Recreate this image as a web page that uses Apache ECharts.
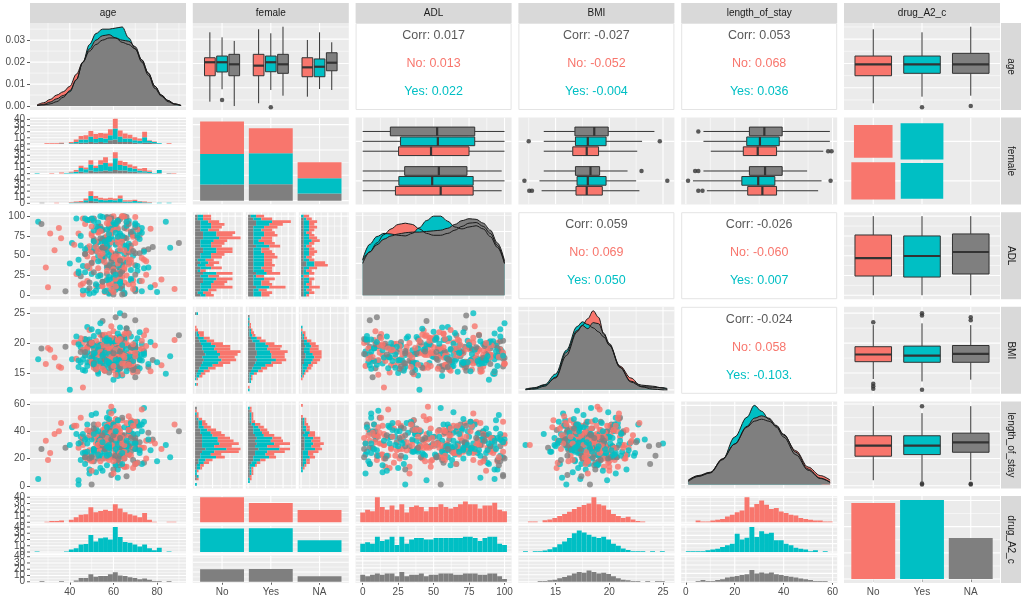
<!DOCTYPE html>
<html>
<head>
<meta charset="utf-8">
<title>ggpairs</title>
<script src="https://cdn.jsdelivr.net/npm/echarts@6.0.0/dist/echarts.min.js"></script>
<style>
html,body{margin:0;padding:0;background:#ffffff;}
#chart{width:1024px;height:602px;}
</style>
</head>
<body>
<div id="chart"></div>
<script>
// ===================== DATA =====================
const varLabels = ['age','female','ADL','BMI','length_of_stay','drug_A2_c'];
const levelNames = ['No','Yes','NA'];
const groupColors = ['#F8766D','#00BFC4','#7F7F7F'];

// tick labels
const ageTicks = [40,60,80];
const adlTicks = [0,25,50,75,100];
const bmiTicks = [15,20,25];
const losTicks = [0,20,40,60];
const ageDensTicks = [0,0.01,0.02,0.03];

// female x drug counts (drug order: No, Yes, NA)
const femaleDrugNo  = [128,120,64];
const femaleDrugYes = [99,122,65];
const femaleDrugNA  = [63,60,28];

// histogram bins (start, width), 30 bins; per female facet: [drug No, drug Yes, drug NA]
const ageBinStart = 23.88, ageBinWidth = 2.24;
const ageHistNo = [
 [0,0,1,1,1,1,0,2,4,6,7,9,8,8,8,10,16,10,8,6,5,4,9,1,1,0,0,1,0,0],
 [0,0,0,0,0,0,0,1,2,5,5,9,6,7,7,8,18,9,6,6,4,4,9,3,2,1,0,0,0,0],
 [0,0,0,0,0,1,0,0,1,2,2,3,2,3,2,6,7,3,3,3,2,1,2,2,1,0,0,0,0,0]];
const ageHistYes = [
 [0,0,0,1,0,2,0,1,3,4,3,7,4,7,9,5,10,7,6,5,4,3,5,2,0,0,0,0,1,0],
 [1,0,0,0,0,0,1,2,3,6,5,10,6,11,13,8,19,9,8,7,5,3,2,2,1,5,0,0,0,0],
 [0,0,0,0,0,0,0,0,0,3,2,5,3,4,5,4,6,5,5,3,3,2,2,1,0,1,0,1,0,0]];
const ageHistNA = [
 [0,0,0,0,1,0,0,1,1,2,3,8,4,3,3,3,3,5,2,2,2,1,1,1,0,0,0,0,0,0],
 [0,0,0,0,0,0,0,1,1,1,3,8,5,4,3,4,3,6,2,2,3,2,1,1,0,1,0,1,0,0],
 [0,1,0,0,0,0,0,0,1,1,2,4,3,2,2,2,2,2,1,1,1,1,1,0,0,0,0,0,0,0]];

const adlBinStart = -1.72, adlBinWidth = 3.448;
const adlHistNo = [
 [3,3,3,8,5,5,6,4,6,2,4,3,4,3,4,5,6,6,4,5,5,8,6,7,4,4,5,4,3,3],
 [2,2,3,4,4,4,5,3,5,1,4,3,3,3,4,4,5,5,4,4,5,6,5,5,3,4,4,3,2,2],
 [2,1,2,2,2,3,3,2,3,1,2,1,2,1,2,2,3,3,2,2,2,3,3,3,2,2,2,2,1,1]];
const adlHistYes = [
 [3,4,3,6,4,3,4,3,5,3,4,4,3,3,5,4,4,3,4,4,5,4,5,4,4,5,5,7,4,3],
 [3,3,2,5,3,3,4,1,4,4,3,4,4,4,4,4,3,3,5,4,2,3,4,4,3,4,5,6,3,2],
 [2,2,2,3,2,2,2,2,3,2,2,2,2,2,2,2,2,2,3,2,2,2,2,2,2,2,3,3,2,1]];
const adlHistNA = [
 [1,2,2,4,2,1,2,2,2,2,3,5,4,2,2,2,3,2,2,2,3,3,2,2,2,3,2,3,2,2],
 [1,2,1,2,1,2,2,1,2,1,2,3,3,2,1,2,2,2,1,2,3,2,2,1,2,2,2,2,1,1],
 [1,1,1,1,1,1,1,0,1,1,1,2,2,1,1,1,1,1,1,1,1,1,1,1,1,1,1,1,1,0]];

const bmiBinStart = 11.97, bmiBinWidth = 0.455;
const bmiHistNo = [
 [0,0,1,0,1,2,3,4,5,7,8,10,11,12,16,11,10,8,5,4,3,4,2,1,0,0,0,0,0,0],
 [0,0,1,0,1,2,3,4,6,8,11,12,11,10,9,8,9,7,5,4,2,1,0,0,0,0,0,0,1,0],
 [0,0,0,0,0,1,1,2,3,4,5,6,5,7,6,5,5,4,3,2,1,1,0,0,0,0,0,0,1,0]];
const bmiHistYes = [
 [0,1,0,0,1,1,2,3,4,5,7,7,9,9,12,9,9,6,4,3,2,2,1,1,1,0,0,0,0,0],
 [1,0,0,1,1,1,3,5,6,8,11,13,11,10,9,8,9,7,5,4,2,1,1,0,1,0,1,0,0,0],
 [0,0,0,1,1,1,1,2,3,4,5,6,5,6,6,5,5,5,3,2,1,1,1,1,0,1,0,1,0,0]];
const bmiHistNA = [
 [0,0,0,0,1,1,1,2,3,3,4,5,5,6,8,6,5,4,3,2,1,2,1,0,0,0,0,0,0,0],
 [0,0,0,0,0,1,1,2,3,4,5,6,6,5,4,4,4,4,2,1,1,1,0,1,0,0,0,0,0,0],
 [0,0,0,0,0,0,1,1,1,1,2,2,3,3,2,2,3,2,2,1,1,0,0,0,0,0,0,0,0,0]];

const losBinStart = 0, losBinWidth = 2;
const losHistNo = [
 [0,0,1,0,0,1,1,2,3,4,5,6,14,8,10,11,9,7,7,6,5,4,3,2,2,1,1,1,0,0],
 [1,0,0,1,1,1,2,2,3,4,9,6,7,12,7,10,9,9,6,6,4,3,2,2,1,0,1,0,0,0],
 [0,0,1,1,0,0,1,1,2,2,3,3,4,6,4,4,4,4,4,3,3,2,2,2,1,1,0,0,1,0]];
const losHistYes = [
 [0,0,1,1,1,1,1,1,2,3,4,5,10,6,7,9,7,5,6,4,4,3,3,2,1,1,1,1,1,0],
 [0,1,1,0,1,1,1,3,3,4,9,6,7,12,7,10,9,9,5,5,4,3,2,1,1,1,1,0,1,0],
 [0,0,0,1,1,1,1,1,2,3,3,4,4,6,4,5,4,5,4,3,3,3,2,1,1,1,1,1,0,0]];
const losHistNA = [
 [0,0,0,0,0,0,1,1,2,2,3,3,6,4,5,6,5,4,4,3,2,2,2,1,1,1,0,0,0,1],
 [0,0,0,0,0,1,1,1,2,2,4,3,3,6,4,5,4,5,3,3,2,2,1,1,1,0,0,0,0,0],
 [0,0,0,0,0,0,0,1,1,1,1,1,1,2,2,2,2,2,1,2,1,1,1,1,1,0,0,0,0,0]];

// densities (diagonal) : x grid and one curve per drug group
const ageDensX   = [25,28,31,34,37,40,43,46,49,52,55,58,61,64,67,70,73,76,79,82,85,88,91];
const ageDensNo  = [0.0005,0.0015,0.003,0.005,0.0065,0.009,0.0145,0.020,0.025,0.028,0.030,0.031,0.031,0.029,0.028,0.026,0.021,0.015,0.009,0.005,0.0025,0.001,0.0003];
const ageDensYes = [0.0002,0.0005,0.001,0.002,0.004,0.007,0.012,0.020,0.028,0.033,0.035,0.035,0.0355,0.036,0.031,0.026,0.020,0.014,0.008,0.0045,0.002,0.0008,0.0002];
const ageDensNA  = [0.0003,0.0008,0.0018,0.0033,0.0048,0.0065,0.012,0.020,0.026,0.030,0.032,0.0325,0.031,0.030,0.0295,0.027,0.021,0.015,0.009,0.005,0.0025,0.001,0.0002];

const adlDensX   = [0,5,10,15,20,25,30,35,40,45,50,55,60,65,70,75,80,85,90,95,100];
const adlDensNo  = [0.0050,0.0068,0.0082,0.0095,0.0104,0.0111,0.0113,0.0111,0.0104,0.0097,0.0094,0.0094,0.0097,0.0102,0.0108,0.0113,0.0114,0.0108,0.0097,0.0078,0.0050];
const adlDensYes = [0.0056,0.0080,0.0092,0.0097,0.0096,0.0094,0.0093,0.0097,0.0106,0.0117,0.0124,0.0124,0.0116,0.0107,0.0104,0.0107,0.0109,0.0104,0.0092,0.0075,0.0050];
const adlDensNA  = [0.0055,0.0068,0.0079,0.0088,0.0093,0.0096,0.0098,0.0099,0.0099,0.0100,0.0101,0.0102,0.0105,0.0111,0.0117,0.0120,0.0119,0.0113,0.0102,0.0082,0.0054];

const bmiDensX   = [12.2,13,14,15,16,17,17.5,18,18.5,19,19.5,20,21,22,23,24,25,25.4];
const bmiDensNo  = [0.002,0.006,0.018,0.045,0.13,0.22,0.245,0.27,0.30,0.275,0.21,0.17,0.09,0.045,0.012,0.003,0,0];
const bmiDensYes = [0.003,0.008,0.02,0.06,0.15,0.24,0.258,0.248,0.235,0.22,0.2,0.17,0.085,0.03,0.012,0.01,0.008,0.005];
const bmiDensNA  = [0,0.003,0.014,0.048,0.142,0.225,0.244,0.232,0.255,0.251,0.214,0.176,0.086,0.033,0.018,0.014,0.007,0.001];

const losDensX   = [1,5,10,15,20,25,28,31,34,37,40,45,50,55,59];
const losDensNo  = [0.002,0.0042,0.006,0.013,0.0205,0.029,0.032,0.033,0.032,0.0295,0.025,0.017,0.0088,0.0045,0.0022];
const losDensYes = [0.0015,0.004,0.0058,0.0125,0.024,0.034,0.040,0.037,0.033,0.029,0.024,0.015,0.0072,0.003,0.001];
const losDensNA  = [0.0022,0.0045,0.0062,0.0128,0.0204,0.0294,0.0335,0.0347,0.0335,0.0299,0.0254,0.0163,0.0078,0.0032,0.0012];

// box plots: [lower whisker, q1, median, q3, upper whisker] per drug (No, Yes, NA)
const ageBoxFemaleNo  = [[28.6,49.9,61.0,64.7,85.6],[38.8,53.0,61.0,66.1,81.5],[25.0,49.9,59.3,67.5,78.5]];
const ageBoxFemaleYes = [[27.3,49.9,58.2,67.5,88.1],[38.2,53.2,61.0,66.1,84.8],[33.5,51.9,59.3,67.5,90.2]];
const ageBoxFemaleNA  = [[32.7,49.1,56.8,64.7,79.3],[39.0,49.1,57.3,63.7,85.6],[38.2,54.0,60.6,68.8,77.4]];
const ageOutFemaleNo  = [[],[30.0],[]];
const ageOutFemaleYes = [[],[24.0],[]];
const ageOutFemaleNA  = [[],[],[]];

const adlBoxFemaleNo  = [[0,23.1,55.0,77.9,98],[0,25.5,49.0,77.9,100],[0,29.6,53.7,73.5,98]];
const adlBoxFemaleYes = [[0,25.3,48.2,75.0,100],[0,26.7,53.0,79.0,100],[0,19.5,52.5,79.0,100]];
const bmiBoxFemaleNo  = [[13.7,16.9,17.9,19.35,22.8],[13.5,17.0,18.0,19.7,22.5],[13.9,16.85,18.25,19.1,21.7]];
const bmiBoxFemaleYes = [[13.9,16.6,17.9,19.0,22.6],[13.9,16.85,18.0,19.7,23.05],[13.9,16.8,18.6,19.9,24.2]];
const bmiOutFemaleNo  = [[12.55,12.8],[12.1,25.4],[23.0]];
const bmiOutFemaleYes = [[],[12.5,24.7],[]];
const losBoxFemaleNo  = [[8.6,25.3,31.3,37.1,54.1],[2.9,22.9,29.6,36.4,55.5],[7.2,26.0,32.4,39.4,49.6]];
const losBoxFemaleYes = [[10.2,23.5,29.4,37.1,56.2],[7.2,24.9,30.3,38.2,58.9],[7.2,26.0,32.1,39.4,58.9]];
const losOutFemaleNo  = [[5.1,6.8],[0.9,59.2],[3.8,5.1]];
const losOutFemaleYes = [[58.2,59.6],[],[5.1]];

const ageBoxDrug = [[27.3,49.9,59.3,66.1,88.1],[32.7,51.9,59.3,66.1,85.6],[33.5,51.9,59.3,68.3,90.2]];
const ageOutDrug = [[],[24.0],[25.0]];
const adlBoxDrug = [[0,24.3,47.0,76.2,100],[0,23.0,49.6,75.0,100],[0,26.9,54.7,77.5,100]];
const adlOutDrug = [[],[],[]];
const bmiBoxDrug = [[14.0,16.9,18.1,19.4,23.0],[13.6,16.8,17.9,19.5,23.3],[13.9,16.8,18.2,19.6,23.0]];
const bmiOutDrug = [[12.4,12.8,13.2,23.5],[12.2,24.6,25.0],[23.8,24.3]];
const losBoxDrug = [[4.1,21.7,29.4,36.7,58.4],[2.9,22.9,29.4,36.7,53.3],[4.1,24.6,31.8,38.6,58.4]];
const losOutDrug = [[],[58.4,1.7,1.0],[1.5,1.0]];

// correlation texts: age-ADL, age-BMI, age-los, ADL-BMI, ADL-los, BMI-los
const corrTotal = ['0.017','-0.027','0.053','0.059','-0.026','-0.024'];
const corrNo    = ['0.013','-0.052','0.068','0.069','-0.060','0.058'];
const corrYes   = ['0.022','-0.004','0.036','0.050','0.007','-0.103.'];

// observations for scatter panels (estimated)
const obsAge = [25.5,27,30,33,36,38,90,84,86,63,61,65,55,40,48,44,50,29,31,35,82,88,46,70,
52,61,67,45,58,72,63,49,55,70,60,48,66,57,74,53,62,41,68,59,
64,50,56,71,47,60,65,54,78,58,62,44,69,51,63,57,75,60,53,66,
49,59,73,62,56,43,67,61,52,70,58,64,46,55,76,61,50,65,57,63,
68,54,60,47,71,62,58,51,66,59,80,55,63,45,69,57,61,52,73,64,
56,62,48,67,60,53,74,58,65,50,61,70,42,57,64,55,72,59,63,51,
66,60,54,77,49,62,58,69,53,61,46,65,57,71,60,52,64,68,55,59,
63,50,67,56,60,73,48,62,54,66,58,79,51,64,57,61,69,44,60,55,
62,71,53,58,65,47,60,68,56,63,50,74,59,61,54,67,45,62,57,70,
58,64,52,60,69,55,63,48,66,57,72,61,53,59,65,50,62,56,67,60,
54,61,57,76,63,49,68,60,55,62,51,65,58,70,46,61,64,53,59,66,
60,52,67,58,63,56,71,48,62,55,65,59,57,62,54,69,50,61,64,58,
53,60,65,57,62,70,51,59,63,56,68,61,55,64,58,60,47,66,54,62,
57,63,49,68,60,54,72,59,65,51,62,58,75,47,64,56,61,69,53,60,
66,55,61,50,70,58,63,46,67,60,54,73,57,62,52,65,59,48,64,61,
59,67,53,62,44,71,57,64,50,63,58,68,55,61,77,52,60,66,56,63,
62,48,65,58,69,54,60,74,51,63,57,66,45,61,59,70,53,64,58,55,
64,57,51,66,60,72,55,62,49,67,58,63,54,70,61,56,65,43,60,68,
56,61,70,53,64,59,47,66,62,57,73,51,60,65,55,69,58,63,50,61];
const obsADL = [93,90,10,57,72,5,66,93,60,78,10,73,45,40,60,30,55,35,78,85,20,8,15,5,
12,87,45,63,3,76,29,95,51,38,70,18,84,6,57,92,24,66,41,99,
8,55,73,31,90,47,16,82,61,2,36,78,50,97,22,68,43,11,86,59,
34,74,5,93,48,27,65,88,14,53,80,39,1,71,58,20,96,44,62,9,
77,26,100,52,37,83,15,69,42,91,4,60,33,75,19,98,47,56,85,23,
67,10,49,94,28,81,55,13,72,40,89,7,64,35,100,17,53,79,30,46,
92,21,58,84,2,69,38,76,50,15,97,63,27,88,44,6,71,32,83,54,
18,95,41,66,9,79,57,25,87,48,70,13,60,36,99,20,74,45,5,82,
40,73,11,90,52,29,85,63,4,56,78,34,97,16,68,43,24,93,59,8,
86,31,64,1,77,49,22,95,54,38,81,10,67,46,100,27,73,57,14,89,
50,7,75,35,96,62,19,83,44,28,71,3,58,91,37,65,12,80,47,99,
23,68,54,88,15,42,76,6,93,61,33,84,20,56,72,8,97,48,30,64,
79,39,2,61,85,26,94,53,17,70,45,90,11,66,35,82,58,25,100,43,
31,76,9,58,92,44,18,67,85,3,50,71,26,97,39,62,14,81,55,35,
88,12,64,41,99,23,73,6,57,30,84,47,19,95,61,2,78,36,69,52,
15,90,43,67,28,83,54,1,76,38,96,21,60,49,10,87,33,72,5,64,
74,37,99,20,56,81,8,45,68,27,91,59,13,79,42,66,24,100,51,17,
46,83,29,62,4,71,53,94,16,39,77,58,25,86,11,68,35,97,48,80,
60,21,89,34,75,7,52,93,40,65,18,82,30,57,99,14,71,44,87,26];
const obsBMI = [17.3,19.1,19.2,17.6,15.9,19.4,21.3,14.9,17.8,25.0,24.3,24.6,23.7,12.2,22.7,16.0,18.2,16.5,18.9,16.1,16.3,20.5,12.6,23.8,
18.4,17.1,19.6,16.8,20.2,18.9,15.7,17.8,21.0,18.2,16.4,19.3,17.5,20.6,18.7,14.9,19.9,17.3,18.5,16.1,
19.1,17.9,15.4,20.8,18.0,16.7,19.5,21.4,17.2,18.6,15.9,20.1,17.7,19.0,16.3,18.8,22.1,17.0,19.8,18.3,
16.9,20.4,18.1,15.2,19.7,17.4,21.7,18.6,16.6,19.2,17.9,14.6,20.0,18.4,16.0,19.4,17.6,21.2,18.9,15.8,
17.3,19.0,16.5,20.7,18.2,15.6,19.6,17.8,22.4,18.0,16.8,20.3,17.1,19.3,15.1,18.7,20.9,16.2,19.8,17.6,
18.5,16.4,20.5,17.9,15.5,19.1,18.3,21.5,16.9,19.7,17.4,14.3,20.1,18.8,16.6,19.4,17.2,22.8,18.0,15.9,
19.9,17.0,18.6,15.3,20.6,18.1,16.7,19.2,21.9,17.5,18.9,16.1,20.2,17.8,19.5,15.7,18.4,21.1,16.9,19.0,
17.7,20.0,16.3,18.7,22.0,17.1,19.3,15.0,18.2,20.8,16.8,19.6,17.4,14.8,20.4,18.6,16.5,19.8,17.9,21.3,
18.3,16.0,19.5,17.6,20.9,15.4,18.8,17.2,19.1,22.6,16.6,18.0,20.3,17.0,19.7,15.8,18.5,21.6,16.4,19.2,
16.7,19.4,18.1,20.7,15.6,17.8,19.9,16.2,21.8,18.4,17.3,20.1,15.2,18.9,17.5,19.6,16.9,20.5,18.0,13.9,
19.3,17.1,20.2,16.5,18.6,22.2,17.7,15.9,19.0,18.2,16.4,20.6,17.9,19.5,15.5,18.7,21.0,16.8,19.8,17.4,
18.1,20.4,16.1,19.2,17.6,21.4,15.3,18.5,19.7,16.9,20.0,17.3,18.8,14.5,19.4,17.0,22.3,18.3,16.6,19.9,
17.5,19.1,16.2,20.8,18.0,15.7,19.6,17.8,21.1,18.6,16.4,20.3,17.2,19.0,15.1,18.9,20.6,16.7,23.3,18.2,
18.6,17.2,19.8,16.4,20.3,18.0,15.8,19.1,17.5,21.2,18.3,16.7,19.5,17.9,20.7,15.4,18.8,17.0,19.3,16.9,
17.8,19.6,16.2,20.1,18.4,15.9,19.0,17.3,21.6,18.7,16.6,20.4,17.6,19.2,15.6,18.1,20.9,16.8,19.7,17.4,
19.4,16.5,18.9,20.6,17.1,15.2,19.9,18.2,16.9,21.0,17.7,19.3,16.0,18.5,20.2,17.2,18.0,22.5,16.3,19.1,
16.8,19.2,17.9,20.0,15.5,18.6,17.0,21.3,18.3,16.1,19.6,17.5,20.8,18.9,15.9,17.8,19.4,16.6,20.5,18.1,
18.0,20.3,16.7,19.0,17.4,21.8,15.7,18.7,19.9,16.4,18.2,20.7,17.1,19.5,14.7,18.4,17.6,21.1,16.2,19.3,
17.3,18.9,20.1,16.0,19.7,17.7,18.5,15.3,20.4,17.0,19.1,16.5,18.3,21.5,17.9,19.8,16.8,18.6,20.0,17.2];
const obsLOS = [5,27,19,38,46,28,40,30,21,31,22,30,29,30,45,1,1,33,24,40,27,45,30,16,
31,24,38,19,45,28,33,12,36,27,41,22,30,50,17,35,26,43,29,8,
37,21,32,46,25,39,14,30,34,23,48,28,36,18,42,27,33,55,20,31,
26,40,16,33,29,44,23,37,10,31,47,25,35,20,39,28,52,30,15,34,
43,27,32,21,38,6,30,45,24,35,18,41,29,36,13,33,49,26,40,22,
30,36,19,42,27,34,57,23,31,39,16,28,44,25,37,11,32,46,21,35,
24,41,29,33,9,38,26,47,31,20,36,28,43,17,34,53,25,39,30,22,
35,18,40,27,32,45,23,29,37,14,42,31,26,48,21,36,28,4,33,39,
28,44,22,35,30,16,38,25,41,33,19,47,29,36,24,51,32,12,40,27,
33,26,39,21,44,30,17,35,28,42,24,37,31,58,20,34,27,45,23,38,
29,40,25,34,15,37,31,46,22,36,27,43,19,32,38,24,50,30,35,7,
36,23,41,28,33,20,47,31,26,39,14,34,44,25,30,37,22,42,29,54,
25,38,31,43,18,35,27,40,22,33,48,29,36,16,41,30,24,46,34,28,
32,27,40,22,35,18,44,29,37,25,31,49,20,34,28,42,15,38,30,45,
26,39,33,21,47,30,36,24,41,12,34,28,43,19,37,31,53,25,35,22,
38,29,23,44,31,17,36,27,40,33,21,46,30,35,26,42,9,32,39,24,
30,41,25,36,19,33,45,28,38,22,35,29,50,27,34,16,40,31,23,37,
34,22,42,29,37,26,31,48,20,36,28,40,13,33,43,25,30,38,18,35,
27,36,31,45,24,39,21,33,41,29,56,26,37,20,32,44,28,35,11,40];
const obsGrp = [1,2,0,0,0,2,2,1,1,1,2,2,2,1,1,1,2,0,0,0,0,0,0,2,
0,1,0,1,2,0,1,1,0,2,1,0,0,1,2,1,0,1,0,2,
1,0,2,1,0,1,0,0,2,1,1,0,1,2,0,1,0,1,2,0,
0,1,1,0,2,0,1,0,1,2,0,1,0,1,2,0,1,0,1,2,
1,0,0,2,1,1,0,2,1,0,1,0,2,1,0,1,0,2,1,0,
2,1,0,1,0,2,1,0,1,0,1,2,0,1,0,1,2,0,1,0,
0,1,2,0,1,0,1,2,1,0,0,1,2,1,0,1,0,1,2,0,
1,0,1,2,0,1,0,1,2,0,1,0,1,0,2,1,0,1,0,2,
0,2,1,0,1,1,0,2,0,1,0,1,2,0,1,0,2,1,0,1,
1,0,1,2,0,1,0,1,0,2,1,0,1,0,2,1,0,1,0,1,
0,1,0,1,2,0,1,0,1,0,2,1,0,1,1,0,2,0,1,2,
1,0,2,0,1,0,1,1,0,2,0,1,0,1,2,0,1,0,2,1,
0,1,0,1,0,2,1,0,1,2,0,1,0,1,2,0,1,0,1,0,
0,1,2,0,1,0,1,0,2,1,0,1,0,1,2,0,1,1,0,2,
1,0,1,2,0,1,0,1,0,2,1,0,1,2,0,1,0,1,0,2,
0,2,1,0,1,0,1,2,0,1,0,1,2,0,1,1,0,2,1,0,
1,0,0,1,2,0,1,0,1,2,0,1,0,1,2,0,1,0,1,2,
0,1,2,1,0,1,0,1,2,0,1,0,1,2,0,1,0,1,0,2,
2,0,1,0,1,0,2,1,0,1,0,1,2,0,1,0,1,2,0,1];

// ===================== LAYOUT / BUILD =====================
const FONT = "'Liberation Sans', Arial, Helvetica, sans-serif";
const TXT = '#4D4D4D';
const PX0 = 30, PW = 156, PXS = 162.8, PY0 = 23, PH = 87, PYS = 94.6, GAPV = 2.2, GAPH = 3;
const OFF = [-0.25, 0, 0.25];
const grids = [], xAxes = [], yAxes = [], series = [], graphic = [];
const P = (r, c) => ({l: PX0 + c * PXS, t: PY0 + r * PYS, w: PW, h: PH});
const rnd = v => Number(v.toPrecision(10));

function minorOf(maj, min, max) {
  const s = maj[1] - maj[0], out = [];
  for (let k = -1; k < maj.length; k++) { const v = rnd(maj[0] + (k + 0.5) * s); if (v > min && v < max) out.push(v); }
  return out;
}
function contSpec(min, max, ticks) { return {min, max, maj: ticks, mnr: minorOf(ticks, min, max)}; }
function niceStep(raw) { const p = Math.pow(10, Math.floor(Math.log10(raw))); for (const m of [1, 2, 2.5, 5, 10]) if (m * p >= raw - 1e-12) return m * p; return 10 * p; }
function zeroSpec(M, div) {
  const s = niceStep(M / div), maj = [];
  for (let k = 0; k * s <= 1.05 * M; k++) maj.push(rnd(k * s));
  return {min: -0.05 * M, max: 1.05 * M, maj, mnr: minorOf(maj, -0.05 * M, 1.05 * M)};
}
const disc3 = {min: 0.4, max: 3.6, maj: [1, 2, 3], mnr: []};
const disc2 = {min: 0.4, max: 2.6, maj: [1, 2], mnr: []};
const discLab3 = {vals: [1, 2, 3], fmt: v => levelNames[Math.round(v) - 1]};
const SPEC = {
  age: contSpec(21.75, 93.25, ageTicks),
  ADL: contSpec(-5, 105, adlTicks),
  BMI: contSpec(11.54, 26.06, bmiTicks),
  los: contSpec(-1.9, 61.9, losTicks)
};
const LAB = {
  age: {vals: ageTicks, fmt: v => String(v)},
  ADL: {vals: adlTicks, fmt: v => String(v)},
  BMI: {vals: bmiTicks, fmt: v => String(v)},
  los: {vals: losTicks, fmt: v => String(v)}
};

function mkAxis(gi, spec, lab, dim) {
  const show = !!lab;
  const ax = {gridIndex: gi, type: 'value', min: spec.min, max: spec.max,
    axisLine: {show: false}, splitLine: {show: false}, minorSplitLine: {show: false},
    axisTick: {show: show, length: 3, lineStyle: {color: '#333333', width: 0.8}},
    axisLabel: {show: show, color: TXT, fontSize: 10, fontFamily: FONT, margin: dim === 'x' ? 4 : 5,
      hideOverlap: false, showMinLabel: true, showMaxLabel: true}};
  if (show) { ax.axisLabel.customValues = lab.vals; ax.axisTick.customValues = lab.vals; ax.axisLabel.formatter = lab.fmt; }
  return ax;
}
function gridLineSeries(gi, xs, ys) {
  return {type: 'custom', xAxisIndex: gi, yAxisIndex: gi, z: 1, silent: true, clip: true,
    data: [[xs.min, ys.min]],
    renderItem: function (params, api) {
      const cs = params.coordSys, ch = [];
      const vl = (v, w) => { if (v <= xs.min || v >= xs.max) return; const x = api.coord([v, ys.min])[0];
        ch.push({type: 'line', shape: {x1: x, y1: cs.y, x2: x, y2: cs.y + cs.height}, style: {stroke: '#FFFFFF', lineWidth: w}}); };
      const hl = (v, w) => { if (v <= ys.min || v >= ys.max) return; const y = api.coord([xs.min, v])[1];
        ch.push({type: 'line', shape: {x1: cs.x, y1: y, x2: cs.x + cs.width, y2: y}, style: {stroke: '#FFFFFF', lineWidth: w}}); };
      xs.mnr.forEach(v => vl(v, 0.55)); ys.mnr.forEach(v => hl(v, 0.55));
      xs.maj.forEach(v => vl(v, 1.1)); ys.maj.forEach(v => hl(v, 1.1));
      return {type: 'group', children: ch};
    }};
}
// left-side count labels for stacked facets (all labels kept, overlapping like the original)
function sideLabelSeries(gi, xs, vals, fmt) {
  return {type: 'custom', xAxisIndex: gi, yAxisIndex: gi, z: 5, silent: true, clip: false,
    data: [[xs.min, vals[0]]],
    renderItem: function (params, api) {
      const cs = params.coordSys, ch = [];
      vals.forEach(v => {
        const y = api.coord([xs.min, v])[1];
        ch.push({type: 'line', shape: {x1: cs.x - 3, y1: y, x2: cs.x, y2: y}, style: {stroke: '#333333', lineWidth: 0.8}});
        ch.push({type: 'text', x: cs.x - 5, y: y, style: {text: fmt(v), fill: TXT, font: '10px ' + FONT,
          textAlign: 'right', textVerticalAlign: 'middle', align: 'right', verticalAlign: 'middle'}});
      });
      return {type: 'group', children: ch};
    }};
}
function addGrid(rect, xs, ys, xlab, ylab) {
  const gi = grids.length;
  grids.push({left: rect.l, top: rect.t, width: rect.w, height: rect.h, show: true, backgroundColor: '#EBEBEB',
    borderWidth: 0, containLabel: false, outerBoundsMode: 'none'});
  xAxes.push(mkAxis(gi, xs, xlab, 'x'));
  yAxes.push(mkAxis(gi, ys, ylab, 'y'));
  series.push(gridLineSeries(gi, xs, ys));
  return gi;
}
function rectSeries(gi, rects) {
  return {type: 'custom', xAxisIndex: gi, yAxisIndex: gi, z: 2, silent: true, clip: true, data: rects,
    encode: {x: [0, 2], y: [1, 3]},
    renderItem: function (p, api) {
      const a = api.coord([api.value(0), api.value(1)]), b = api.coord([api.value(2), api.value(3)]);
      return {type: 'rect', shape: {x: Math.min(a[0], b[0]), y: Math.min(a[1], b[1]), width: Math.abs(b[0] - a[0]), height: Math.abs(b[1] - a[1])},
        style: {fill: groupColors[api.value(4)]}};
    }};
}
function boxSeries(gi, boxes) {
  return {type: 'custom', xAxisIndex: gi, yAxisIndex: gi, z: 2, silent: true, clip: true, data: boxes,
    renderItem: function (p, api) {
      const v = i => api.value(i), hz = v(8), pos = v(0), hw = v(7);
      const C = (a, val) => hz ? api.coord([val, a]) : api.coord([a, val]);
      const L = (p1, p2, w) => ({type: 'line', shape: {x1: p1[0], y1: p1[1], x2: p2[0], y2: p2[1]}, style: {stroke: '#333333', lineWidth: w || 1}});
      const a = C(pos - hw, v(2)), b = C(pos + hw, v(4));
      return {type: 'group', children: [
        L(C(pos, v(1)), C(pos, v(2))), L(C(pos, v(4)), C(pos, v(5))),
        {type: 'rect', shape: {x: Math.min(a[0], b[0]), y: Math.min(a[1], b[1]), width: Math.abs(b[0] - a[0]), height: Math.abs(b[1] - a[1])},
          style: {fill: groupColors[v(6)], stroke: '#333333', lineWidth: 1}},
        L(C(pos - hw, v(3)), C(pos + hw, v(3)), 2.2)
      ]};
    }};
}
function outlierSeries(gi, pts) {
  return {type: 'scatter', xAxisIndex: gi, yAxisIndex: gi, z: 3, silent: true, symbolSize: 4.5,
    itemStyle: {color: '#333333'}, data: pts};
}
function densityPanel(r, key, xs, curves, labels) {
  const M = Math.max(...curves.flat());
  const ys = zeroSpec(M, 4);
  const gi = addGrid(P(r, r), SPEC[key], ys, null, labels ? {vals: ageDensTicks, fmt: v => v.toFixed(2)} : null);
  curves.forEach((cv, d) => series.push({type: 'line', xAxisIndex: gi, yAxisIndex: gi, z: 3, silent: true,
    data: xs.map((x, i) => [x, cv[i]]), smooth: 0.35, smoothMonotone: 'x', showSymbol: false,
    lineStyle: {color: '#1A1A1A', width: 1}, areaStyle: {color: groupColors[d], opacity: 1}}));
}
const obsCols = {age: obsAge, ADL: obsADL, BMI: obsBMI, los: obsLOS};
const nObs = Math.min(obsAge.length, obsADL.length, obsBMI.length, obsLOS.length, obsGrp.length);
function scatterPanel(r, c, xk, yk) {
  const gi = addGrid(P(r, c), SPEC[xk], SPEC[yk], r === 5 ? LAB[xk] : null, c === 0 ? LAB[yk] : null);
  const data = [];
  for (let i = 0; i < nObs; i++) data.push({value: [obsCols[xk][i], obsCols[yk][i]], itemStyle: {color: groupColors[obsGrp[i]]}});
  series.push({type: 'scatter', xAxisIndex: gi, yAxisIndex: gi, z: 3, silent: true, symbolSize: 6, data});
}
function vFacets(r, c) { const p = P(r, c), h = (PH - 2 * GAPV) / 3; return [0, 1, 2].map(k => ({l: p.l, t: p.t + k * (h + GAPV), w: PW, h})); }
function hFacets(r, c) { const p = P(r, c), w = (PW - 2 * GAPH) / 3; return [0, 1, 2].map(k => ({l: p.l + k * (w + GAPH), t: p.t, w, h: PH})); }
const HIST = {
  age: {start: ageBinStart, width: ageBinWidth, f: [ageHistNo, ageHistYes, ageHistNA]},
  ADL: {start: adlBinStart, width: adlBinWidth, f: [adlHistNo, adlHistYes, adlHistNA]},
  BMI: {start: bmiBinStart, width: bmiBinWidth, f: [bmiHistNo, bmiHistYes, bmiHistNA]},
  los: {start: losBinStart, width: losBinWidth, f: [losHistNo, losHistYes, losHistNA]}
};
const binEdges = (h, i) => [h.start + i * h.width, h.start + (i + 1) * h.width];
function stackRects(h, f, horiz) {
  const rects = [];
  for (let i = 0; i < f[0].length; i++) {
    const [a, b] = binEdges(h, i); let base = 0;
    for (const d of [2, 1, 0]) { const v = f[d][i]; if (v > 0) { rects.push(horiz ? [base, a, base + v, b, d] : [a, base, b, base + v, d]); base += v; } }
  }
  return rects;
}
const stackMax = h => Math.max(...h.f.map(f => Math.max(...f[0].map((_, i) => f[0][i] + f[1][i] + f[2][i]))));
function corrPanel(r, c, k) {
  const p = P(r, c);
  graphic.push({type: 'rect', silent: true, shape: {x: p.l + 0.5, y: p.t + 0.5, width: p.w - 1, height: p.h - 1},
    style: {fill: '#FFFFFF', stroke: '#E4E4E4', lineWidth: 1}});
  const lines = [['Corr: ' + corrTotal[k], '#595959'], ['No: ' + corrNo[k], groupColors[0]], ['Yes: ' + corrYes[k], groupColors[1]]];
  const yy = [12.5, 40.5, 68.5];
  lines.forEach((ln, j) => graphic.push({type: 'text', silent: true, x: p.l + p.w / 2, y: p.t + yy[j],
    style: {text: ln[0], fill: ln[1], font: '12.5px ' + FONT, textAlign: 'center', textVerticalAlign: 'middle', align: 'center', verticalAlign: 'middle'}}));
}

// ---------- Row 0 ----------
densityPanel(0, 'age', ageDensX, [ageDensNo, ageDensYes, ageDensNA], true);
{
  const gi = addGrid(P(0, 1), disc3, SPEC.age, null, null);
  const boxes = [], outs = [];
  [ageBoxFemaleNo, ageBoxFemaleYes, ageBoxFemaleNA].forEach((row, f) => row.forEach((b, d) => boxes.push([f + 1 + OFF[d], ...b, d, 0.11, 0])));
  [ageOutFemaleNo, ageOutFemaleYes, ageOutFemaleNA].forEach((row, f) => row.forEach((o, d) => o.forEach(v => outs.push([f + 1 + OFF[d], v]))));
  series.push(boxSeries(gi, boxes)); series.push(outlierSeries(gi, outs));
}
corrPanel(0, 2, 0); corrPanel(0, 3, 1); corrPanel(0, 4, 2);
function drugBoxPanel(r, key, boxes, outs) {
  const gi = addGrid(P(r, 5), disc3, SPEC[key], null, null);
  series.push(boxSeries(gi, boxes.map((b, d) => [d + 1, ...b, d, 0.375, 0])));
  const pts = []; outs.forEach((o, d) => o.forEach(v => pts.push([d + 1, v])));
  series.push(outlierSeries(gi, pts));
}
drugBoxPanel(0, 'age', ageBoxDrug, ageOutDrug);

// ---------- Row 1 ----------
{
  const h = HIST.age, fr = vFacets(1, 0), ys = zeroSpec(stackMax(h), 5);
  h.f.forEach((f, k) => {
    const gi = addGrid(fr[k], SPEC.age, ys, null, null);
    series.push(rectSeries(gi, stackRects(h, f, false)));
    series.push(sideLabelSeries(gi, SPEC.age, ys.maj, v => String(v)));
  });
}
const femaleDrug = [femaleDrugNo, femaleDrugYes, femaleDrugNA];
{
  const totals = femaleDrug.map(a => a.reduce((s, v) => s + v, 0));
  const gi = addGrid(P(1, 1), disc3, zeroSpec(Math.max(...totals), 5), null, null);
  const rects = [];
  femaleDrug.forEach((a, f) => { let base = 0; [2, 1, 0].forEach(d => { rects.push([f + 1 - 0.45, base, f + 1 + 0.45, base + a[d], d]); base += a[d]; }); });
  series.push(rectSeries(gi, rects));
}
function femaleBoxPanel(c, key, boxNo, boxYes, outNo, outYes) {
  const gi = addGrid(P(1, c), SPEC[key], disc2, null, null);
  const boxes = [], pts = [];
  [boxNo, boxYes].forEach((row, f) => row.forEach((b, d) => boxes.push([f + 1 + OFF[d], ...b, d, 0.11, 1])));
  [outNo, outYes].forEach((row, f) => row.forEach((o, d) => o.forEach(v => pts.push([v, f + 1 + OFF[d]]))));
  series.push(boxSeries(gi, boxes)); series.push(outlierSeries(gi, pts));
}
femaleBoxPanel(2, 'ADL', adlBoxFemaleNo, adlBoxFemaleYes, [[], [], []], [[], [], []]);
femaleBoxPanel(3, 'BMI', bmiBoxFemaleNo, bmiBoxFemaleYes, bmiOutFemaleNo, bmiOutFemaleYes);
femaleBoxPanel(4, 'los', losBoxFemaleNo, losBoxFemaleYes, losOutFemaleNo, losOutFemaleYes);
{
  const gi = addGrid(P(1, 5), disc3, disc2, null, null);
  const M = Math.max(femaleDrugNo[0], femaleDrugNo[1], femaleDrugYes[0], femaleDrugYes[1]);
  const rects = [];
  [femaleDrugNo, femaleDrugYes].forEach((a, f) => [0, 1].forEach(d => { const s = Math.sqrt(a[d] / M);
    rects.push([d + 1 - 0.45 * s, f + 1 - 0.47 * s, d + 1 + 0.45 * s, f + 1 + 0.47 * s, d]); }));
  series.push(rectSeries(gi, rects));
}

// ---------- Rows 2-4 ----------
function hHistPanel(r, key) {
  const h = HIST[key], fr = hFacets(r, 1), xs = zeroSpec(stackMax(h), 5);
  h.f.forEach((f, k) => { const gi = addGrid(fr[k], xs, SPEC[key], null, null); series.push(rectSeries(gi, stackRects(h, f, true))); });
}
scatterPanel(2, 0, 'age', 'ADL');
hHistPanel(2, 'ADL');
densityPanel(2, 'ADL', adlDensX, [adlDensNo, adlDensYes, adlDensNA], false);
corrPanel(2, 3, 3); corrPanel(2, 4, 4);
drugBoxPanel(2, 'ADL', adlBoxDrug, adlOutDrug);

scatterPanel(3, 0, 'age', 'BMI');
hHistPanel(3, 'BMI');
scatterPanel(3, 2, 'ADL', 'BMI');
densityPanel(3, 'BMI', bmiDensX, [bmiDensNo, bmiDensYes, bmiDensNA], false);
corrPanel(3, 4, 5);
drugBoxPanel(3, 'BMI', bmiBoxDrug, bmiOutDrug);

scatterPanel(4, 0, 'age', 'los');
hHistPanel(4, 'los');
scatterPanel(4, 2, 'ADL', 'los');
scatterPanel(4, 3, 'BMI', 'los');
densityPanel(4, 'los', losDensX, [losDensNo, losDensYes, losDensNA], false);
drugBoxPanel(4, 'los', losBoxDrug, losOutDrug);

// ---------- Row 5 ----------
function drugHistPanel(c, key) {
  const h = HIST[key], fr = vFacets(5, c);
  const tot = [0, 1, 2].map(d => h.f[0][d].map((_, i) => h.f[0][d][i] + h.f[1][d][i] + h.f[2][d][i]));
  const ys = zeroSpec(Math.max(...tot.flat()), 5);
  tot.forEach((t, d) => {
    const gi = addGrid(fr[d], SPEC[key], ys, d === 2 ? LAB[key] : null, null);
    const rects = [];
    t.forEach((v, i) => { if (v > 0) { const [a, b] = binEdges(h, i); rects.push([a, 0, b, v, d]); } });
    series.push(rectSeries(gi, rects));
    if (c === 0) series.push(sideLabelSeries(gi, SPEC[key], ys.maj, v => String(v)));
  });
}
drugHistPanel(0, 'age');
{
  const fr = vFacets(5, 1), ys = zeroSpec(Math.max(...femaleDrug.flat()), 5);
  [0, 1, 2].forEach(d => {
    const gi = addGrid(fr[d], disc3, ys, d === 2 ? discLab3 : null, null);
    series.push(rectSeries(gi, femaleDrug.map((a, f) => [f + 1 - 0.45, 0, f + 1 + 0.45, a[d], d])));
  });
}
drugHistPanel(2, 'ADL');
drugHistPanel(3, 'BMI');
drugHistPanel(4, 'los');
{
  const tot = [0, 1, 2].map(d => femaleDrug.reduce((s, a) => s + a[d], 0));
  const gi = addGrid(P(5, 5), disc3, zeroSpec(Math.max(...tot), 5), discLab3, null);
  series.push(rectSeries(gi, tot.map((v, d) => [d + 1 - 0.45, 0, d + 1 + 0.45, v, d])));
}

// ---------- strips ----------
varLabels.forEach((lab, c) => {
  const p = P(0, c);
  graphic.push({type: 'rect', silent: true, shape: {x: p.l, y: 3, width: PW, height: 20}, style: {fill: '#D9D9D9'}});
  graphic.push({type: 'text', silent: true, x: p.l + PW / 2, y: 13.5,
    style: {text: lab, fill: '#1A1A1A', font: '10px ' + FONT, textAlign: 'center', textVerticalAlign: 'middle', align: 'center', verticalAlign: 'middle'}});
});
varLabels.forEach((lab, r) => {
  const p = P(r, 5), x0 = p.l + PW + 1;
  graphic.push({type: 'rect', silent: true, shape: {x: x0, y: p.t, width: 20, height: PH}, style: {fill: '#D9D9D9'}});
  graphic.push({type: 'text', silent: true, x: x0 + 10, y: p.t + PH / 2, rotation: -Math.PI / 2,
    style: {text: lab, fill: '#1A1A1A', font: '10px ' + FONT, textAlign: 'center', textVerticalAlign: 'middle', align: 'center', verticalAlign: 'middle'}});
});

const chart = echarts.init(document.getElementById('chart'), null, {renderer: 'canvas', width: 1024, height: 602});
chart.setOption({
  animation: false,
  backgroundColor: '#FFFFFF',
  textStyle: {fontFamily: FONT},
  grid: grids, xAxis: xAxes, yAxis: yAxes, series: series,
  graphic: graphic
});
</script>
</body>
</html>
